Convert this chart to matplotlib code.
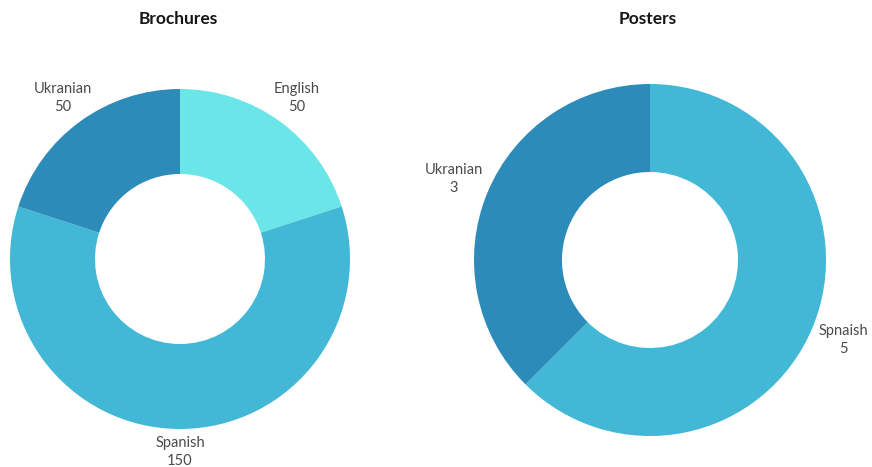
import matplotlib.pyplot as plt
import numpy as np

# Brochures donut
brochure_labels = ['English', 'Spanish', 'Ukranian']
brochure_values = [50, 150, 50]
brochure_colors = ['#6ae5e8', '#42b7d6', '#2d8bba']

# Posters donut
poster_labels = ['Spnaish', 'Ukranian']
poster_values = [5, 3]
poster_colors = ['#42b7d6', '#2d8bba']

plt.rcParams['font.family'] = ['Lato', 'DejaVu Sans']

fig = plt.figure(figsize=(8.72, 4.67), dpi=100)
# one axes in pixel units so both donuts share the same scale
ax = fig.add_axes([0, 0, 1, 1])


def donut(center, radius, values, labels, colors, label_r, title):
    ax.pie(values, colors=colors, center=center, radius=radius,
           startangle=90, counterclock=False,
           wedgeprops=dict(width=radius / 2, linewidth=0))
    total = float(sum(values))
    start = 0.0
    for v, lab in zip(values, labels):
        mid = np.deg2rad((start + v / 2) / total * 360)
        start += v
        # labels below the donut sit a little closer to the ring
        r = label_r + 6 * min(0.0, np.cos(mid))
        x = center[0] + r * np.sin(mid)
        y = center[1] + r * np.cos(mid)
        ax.text(x, y, f'{lab}\n{v}', ha='center', va='center',
                fontsize=10.5, color='#4a4a4a', linespacing=1.35)
    ax.text(center[0] - 2, 448, title, ha='center', va='center',
            fontsize=12.5, fontweight='bold', color='#151515')


donut((180, 208), 170, brochure_values, brochure_labels, brochure_colors,
      199, 'Brochures')
donut((650, 207), 176, poster_values, poster_labels, poster_colors,
      212, 'Posters')

ax.set_xlim(0, 872)
ax.set_ylim(0, 467)
ax.set_aspect('equal')
ax.axis('off')

fig.savefig('out.png', dpi=100)
